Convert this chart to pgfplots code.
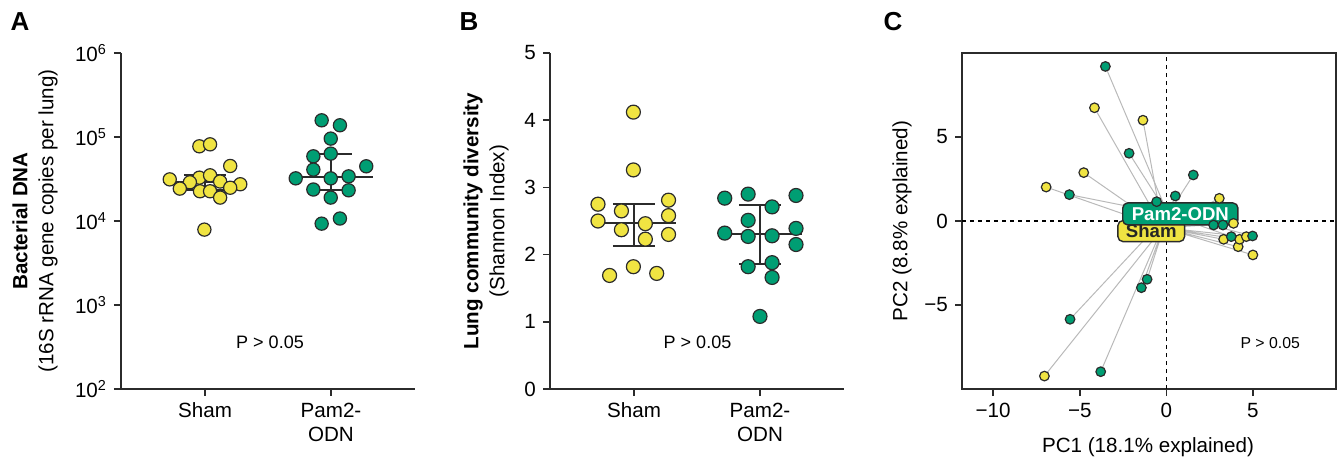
\documentclass[border=0pt]{standalone}
\usepackage{fontspec}
\setmainfont{Liberation Sans}
\usepackage{pgfplots}
\pgfplotsset{compat=1.18}

\definecolor{shamY}{HTML}{F0E442}
\definecolor{pamG}{HTML}{009E73}
\definecolor{edge}{HTML}{2B2B2B}

\pgfplotsset{
  dotpanel/.style={
    scale only axis, width=147pt, height=168pt,
    axis lines=left, axis line style={-, edge, line width=0.8pt},
    tick style={edge, line width=0.8pt}, tick align=outside, major tick length=3.5pt,
    tick label style={font=\fontsize{10.3}{12}\selectfont},
    /pgf/number format/assume math mode=true,
    xmin=0.333, xmax=2.667, xtick={1,2}, xticklabels={Sham,{Pam2-\\ODN}},
    xticklabel style={align=center},
    clip=false,
  },
  sham/.style={only marks, mark=*, mark size=#1,
    mark options={fill=shamY, draw=edge, line width=0.6pt}},
  pam/.style={only marks, mark=*, mark size=#1,
    mark options={fill=pamG, draw=edge, line width=0.6pt}},
  iqr/.style={edge, line width=1pt, no marks},
}

\begin{document}
\begin{tikzpicture}
\path (0,0) rectangle (671.5pt,229.5pt);

% panel letters and y labels
\node[font=\fontsize{13}{15}\selectfont\bfseries] at (10pt,218.5pt) {A};
\node[font=\fontsize{13}{15}\selectfont\bfseries] at (234.5pt,218.5pt) {B};
\node[font=\fontsize{13}{15}\selectfont\bfseries] at (446.5pt,218.5pt) {C};

\node[rotate=90, align=center, font=\fontsize{10.3}{13}\selectfont] at (17.5pt,119pt)
  {{\bfseries Bacterial DNA}\\(16S rRNA gene copies per lung)};
\node[rotate=90, align=center, font=\fontsize{10.3}{13}\selectfont] at (243pt,119pt)
  {{\bfseries Lung community diversity}\\(Shannon Index)};
\node[rotate=90, font=\fontsize{10.3}{12}\selectfont] at (451pt,119pt) {PC2 (8.8\% explained)};
\node[font=\fontsize{10.3}{12}\selectfont] at (574pt,6pt) {PC1 (18.1\% explained)};

% ---------------- A ----------------
\begin{axis}[dotpanel, at={(60.5pt,35pt)}, anchor=south west,
    ymode=log, ymin=100, ymax=1e6, yminorticks=false,
    ytick={1e2,1e3,1e4,1e5,1e6},
    yticklabels={10\textsuperscript{2},10\textsuperscript{3},10\textsuperscript{4},10\textsuperscript{5},10\textsuperscript{6}}]
  \addplot[sham=3.3pt] coordinates {
    (0.955,7.75e4) (1.04,8.18e4) (1.2,4.52e4) (0.72,3.13e4) (0.955,3.28e4)
    (1.04,3.50e4) (0.88,2.89e4) (1.12,2.95e4) (1.28,2.74e4) (0.80,2.43e4)
    (0.96,2.26e4) (1.04,2.26e4) (1.2,2.49e4) (1.12,1.90e4) (0.995,7.9e3)};
  \addplot[pam=3.3pt] coordinates {
    (1.926,1.58e5) (2.071,1.38e5) (1.998,9.57e4) (1.86,5.89e4) (1.998,6.34e4)
    (1.86,4.09e4) (2.28,4.48e4) (1.72,3.22e4) (1.998,3.22e4) (2.14,3.40e4)
    (1.86,2.37e4) (2.14,2.32e4) (1.998,1.90e4) (2.071,1.07e4) (1.926,9.3e3)};
  % median and interquartile range
  \addplot[iqr] coordinates {(0.667,2.91e4) (1.333,2.91e4)};
  \addplot[iqr] coordinates {(0.833,3.5e4) (1.167,3.5e4)};
  \addplot[iqr] coordinates {(0.833,2.37e4) (1.167,2.37e4)};
  \addplot[iqr] coordinates {(1,2.37e4) (1,3.5e4)};
  \addplot[iqr] coordinates {(1.667,3.34e4) (2.333,3.34e4)};
  \addplot[iqr] coordinates {(1.833,6.34e4) (2.167,6.34e4)};
  \addplot[iqr] coordinates {(1.833,2.32e4) (2.167,2.32e4)};
  \addplot[iqr] coordinates {(2,2.32e4) (2,6.34e4)};
  \node[font=\fontsize{9}{11}\selectfont] at (axis cs:1.516,363) {P > 0.05};
\end{axis}

% ---------------- B ----------------
\begin{axis}[dotpanel, at={(275pt,35pt)}, anchor=south west,
    ymin=0, ymax=5, ytick={0,1,2,3,4,5}]
  \addplot[sham=3.5pt] coordinates {
    (0.995,4.12) (0.995,3.26) (0.714,2.75) (1.274,2.81) (0.90,2.65)
    (1.274,2.58) (0.714,2.50) (1.09,2.46) (0.90,2.37) (1.274,2.30)
    (1.09,2.23) (0.995,1.82) (0.806,1.69) (1.18,1.72)};
  \addplot[pam=3.5pt] coordinates {
    (1.72,2.84) (1.906,2.90) (2.286,2.88) (2.096,2.71) (1.906,2.51)
    (1.72,2.32) (1.906,2.27) (2.096,2.28) (2.286,2.39) (2.286,2.15)
    (1.906,1.82) (2.096,1.88) (2.096,1.66) (2.0,1.08)};
  \addplot[iqr] coordinates {(0.667,2.475) (1.333,2.475)};
  \addplot[iqr] coordinates {(0.833,2.76) (1.167,2.76)};
  \addplot[iqr] coordinates {(0.833,2.13) (1.167,2.13)};
  \addplot[iqr] coordinates {(1,2.13) (1,2.76)};
  \addplot[iqr] coordinates {(1.667,2.30) (2.333,2.30)};
  \addplot[iqr] coordinates {(1.833,2.74) (2.167,2.74)};
  \addplot[iqr] coordinates {(1.833,1.86) (2.167,1.86)};
  \addplot[iqr] coordinates {(2,1.86) (2,2.74)};
  \node[font=\fontsize{9}{11}\selectfont] at (axis cs:1.504,0.70) {P > 0.05};
\end{axis}

% ---------------- C ----------------
\begin{axis}[at={(481pt,35pt)}, anchor=south west,
    scale only axis, width=187pt, height=168pt,
    xmin=-11.8, xmax=9.8, ymin=-10, ymax=10,
    xtick={-10,-5,0,5}, xticklabels={−10,−5,0,5},
    ytick={-5,0,5}, yticklabels={−5,0,5},
    xtick pos=left, ytick pos=left,
    axis line style={edge, line width=0.8pt},
    tick style={edge, line width=0.8pt}, tick align=outside, major tick length=3.5pt,
    tick label style={font=\fontsize{10.3}{12}\selectfont},
    clip=false]
  \addplot[black, line width=0.7pt, dash pattern=on 2pt off 2pt] coordinates {(0,-10) (0,10)};
  \addplot[black, line width=0.7pt, dash pattern=on 2pt off 2pt] coordinates {(-11.8,0) (9.8,0)};
  % spider lines to group centroids
  \addplot[gray!55, line width=0.5pt, unbounded coords=jump] coordinates {
    (-4.15,6.74) (-0.2,-0.4) (nan,nan) (-1.35,6.0) (-0.2,-0.4) (nan,nan)
    (-4.77,2.88) (-0.2,-0.4) (nan,nan) (-6.94,2.02) (-0.2,-0.4) (nan,nan)
    (3.06,1.35) (-0.2,-0.4) (nan,nan) (3.31,-1.09) (-0.2,-0.4) (nan,nan)
    (4.15,-1.53) (-0.2,-0.4) (nan,nan) (4.23,-1.09) (-0.2,-0.4) (nan,nan)
    (4.62,-0.93) (-0.2,-0.4) (nan,nan) (5.0,-2.02) (-0.2,-0.4) (nan,nan)
    (-7.04,-9.23) (-0.2,-0.4) (nan,nan) (3.88,-0.14) (-0.2,-0.4)};
  \addplot[gray!55, line width=0.5pt, unbounded coords=jump] coordinates {
    (-3.52,9.2) (0.1,0.4) (nan,nan) (-2.15,4.03) (0.1,0.4) (nan,nan)
    (-5.6,1.57) (0.1,0.4) (nan,nan) (1.56,2.74) (0.1,0.4) (nan,nan)
    (0.52,1.49) (0.1,0.4) (nan,nan) (-0.56,1.15) (0.1,0.4) (nan,nan)
    (3.75,-0.93) (0.1,0.4) (nan,nan) (4.98,-0.89) (0.1,0.4) (nan,nan)
    (-1.11,-3.47) (0.1,0.4) (nan,nan) (-1.44,-3.97) (0.1,0.4) (nan,nan)
    (-5.56,-5.85) (0.1,0.4) (nan,nan) (-3.79,-8.97) (0.1,0.4) (nan,nan)
    (2.73,-0.24) (0.1,0.4) (nan,nan) (3.27,-0.24) (0.1,0.4)};
  \addplot[sham=2.4pt] coordinates {
    (-4.15,6.74) (-1.35,6.0) (-4.77,2.88) (-6.94,2.02) (3.06,1.35) (3.31,-1.09)
    (4.15,-1.53) (4.23,-1.09) (4.62,-0.93) (5.0,-2.02) (-7.04,-9.23) (3.88,-0.14)};
  \addplot[pam=2.4pt] coordinates {
    (-3.52,9.2) (-2.15,4.03) (-5.6,1.57) (1.56,2.74) (0.52,1.49) (-0.56,1.15)
    (3.75,-0.93) (4.98,-0.89) (-1.11,-3.47) (-1.44,-3.97) (-5.56,-5.85)
    (-3.79,-8.97) (2.73,-0.24) (3.27,-0.24)};
  \node[fill=shamY, draw=edge, line width=0.7pt, rounded corners=2.5pt,
        font=\fontsize{9.3}{11}\selectfont\bfseries, text=black!85,
        inner xsep=4pt, inner ysep=1.5pt, minimum height=10.5pt]
    at (axis cs:-0.87,-0.6) {Sham};
  \node[fill=pamG, draw=edge, line width=0.7pt, rounded corners=2.5pt,
        font=\fontsize{9.3}{11}\selectfont\bfseries, text=white,
        inner xsep=4.5pt, inner ysep=1.5pt, minimum height=11pt]
    at (axis cs:0.81,0.42) {Pam2-ODN};
  \node[font=\fontsize{7.9}{10}\selectfont] at (axis cs:6.0,-7.26) {P > 0.05};
\end{axis}
\end{tikzpicture}
\end{document}
